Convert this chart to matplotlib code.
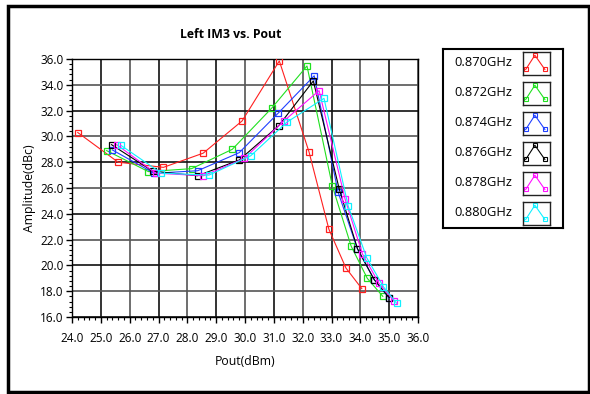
import matplotlib
matplotlib.use("Agg")
import matplotlib.pyplot as plt
from matplotlib.patches import Rectangle
import numpy as np

plt.rcParams['font.family'] = ['Open Sans', 'DejaVu Sans']

title = "Left IM3 vs. Pout"
xlabel = "Pout(dBm)"
ylabel = "Amplitude(dBc)"
labels = ["0.870GHz", "0.872GHz", "0.874GHz", "0.876GHz", "0.878GHz", "0.880GHz"]
colors = ["#ff2020", "#20e020", "#2040ff", "#000000", "#ff10ff", "#10f0ff"]

x_870 = [24.2, 25.6, 27.17, 28.55, 29.9, 31.19, 32.22, 32.91, 33.5, 34.05]
y_870 = [30.3, 28.0, 27.6, 28.7, 31.2, 35.85, 28.8, 22.8, 19.8, 18.2]
x_872 = [25.2, 26.65, 28.15, 29.56, 30.93, 32.15, 33.03, 33.68, 34.24, 34.78]
y_872 = [28.9, 27.27, 27.5, 29.0, 32.2, 35.46, 26.15, 21.5, 19.0, 17.6]
x_874 = [25.4, 26.85, 28.36, 29.8, 31.15, 32.4, 33.23, 33.9, 34.48, 35.0]
y_874 = [28.95, 27.14, 27.34, 28.74, 31.8, 34.7, 25.67, 21.27, 18.9, 17.45]
x_876 = [25.37, 26.8, 28.36, 29.8, 31.17, 32.37, 33.27, 33.9, 34.48, 35.0]
y_876 = [29.36, 27.3, 26.95, 28.17, 30.83, 34.3, 25.9, 21.3, 18.9, 17.5]
x_878 = [25.55, 26.9, 28.56, 29.98, 31.35, 32.57, 33.47, 34.07, 34.65, 35.16]
y_878 = [29.36, 27.15, 26.95, 28.3, 31.2, 33.55, 25.15, 20.9, 18.6, 17.26]
x_880 = [25.7, 27.1, 28.75, 30.2, 31.45, 32.74, 33.58, 34.22, 34.8, 35.26]
y_880 = [29.3, 27.15, 27.0, 28.5, 31.1, 32.95, 24.6, 20.6, 18.35, 17.06]

xs = [x_870, x_872, x_874, x_876, x_878, x_880]
ys = [y_870, y_872, y_874, y_876, y_878, y_880]

xticks = np.arange(24.0, 36.01, 1.0)
yticks = np.arange(16.0, 36.01, 2.0)

fig = plt.figure(figsize=(5.9, 3.94), dpi=100)
W, H = 590, 394

# outer frame
fig.patches.append(Rectangle((8 / W, 1 - 392 / H), (589 - 8) / W, (392 - 6) / H,
                             transform=fig.transFigure, fill=False,
                             edgecolor="black", linewidth=2.5, zorder=0))

ax = fig.add_axes([72 / W, 1 - 317 / H, (418 - 72) / W, (317 - 59) / H])
ax.set_xlim(24.0, 36.0)
ax.set_ylim(16.0, 36.0)

for i, xv in enumerate(xticks):
    ax.axvline(xv, color="#111111" if i % 2 else "#555555", linewidth=1.2, zorder=1)
for i, yv in enumerate(yticks):
    ax.axhline(yv, color="#111111" if i % 2 == 0 else "#555555", linewidth=1.2, zorder=1)

for xv, yv, c in zip(xs, ys, colors):
    ax.plot(xv, yv, color=c, linewidth=0.8, marker="s", markersize=4.5,
            markerfacecolor="none", markeredgewidth=0.9, zorder=3)

ax.set_xticks(xticks)
ax.set_xticklabels([f"{v:.1f}" for v in xticks])
ax.set_yticks(yticks)
ax.set_yticklabels([f"{v:.1f}" for v in yticks])
ax.set_xticks(np.arange(24.0, 36.01, 0.2), minor=True)
ax.set_yticks(np.arange(16.0, 36.01, 0.4), minor=True)
ax.tick_params(axis="both", which="major", direction="out", length=4, width=1,
               labelsize=8.5, colors="black", pad=2)
ax.tick_params(axis="x", which="major", pad=7)
ax.tick_params(axis="both", which="minor", direction="out", length=2.5, width=0.8)
for s in ax.spines.values():
    s.set_color("black")
    s.set_linewidth(1.0)

ax.set_xlabel(xlabel, fontsize=8.8, labelpad=7)
ax.set_ylabel(ylabel, fontsize=8.8, labelpad=3)
fig.text(231 / W, 1 - 34 / H, title, ha="center", va="center",
         fontsize=8.8, fontweight="bold")

# legend box
lax = fig.add_axes([443 / W, 1 - 228 / H, (563 - 443) / W, (228 - 49) / H])
lax.set_xticks([])
lax.set_yticks([])
for s in lax.spines.values():
    s.set_color("black")
    s.set_linewidth(1.5)
lax.set_xlim(0, 1)
lax.set_ylim(0, 1)

icon_x = [0.1, 0.44, 0.81]
icon_y = [0.24, 0.86, 0.24]
for i, (lab, c) in enumerate(zip(labels, colors)):
    cy = 63 + i * 30
    fig.text(483 / W, 1 - cy / H, lab, ha="center", va="center", fontsize=9.3)
    iax = fig.add_axes([523 / W, 1 - (cy + 12) / H, 27 / W, 23 / H])
    iax.set_xticks([])
    iax.set_yticks([])
    for s in iax.spines.values():
        s.set_color("#222222")
        s.set_linewidth(1.0)
    iax.set_xlim(0, 1)
    iax.set_ylim(0, 1)
    iax.plot(icon_x, icon_y, color=c, linewidth=0.8, marker="s", markersize=3,
             markerfacecolor="none", markeredgewidth=0.8)

fig.savefig("out.png", dpi=100)
